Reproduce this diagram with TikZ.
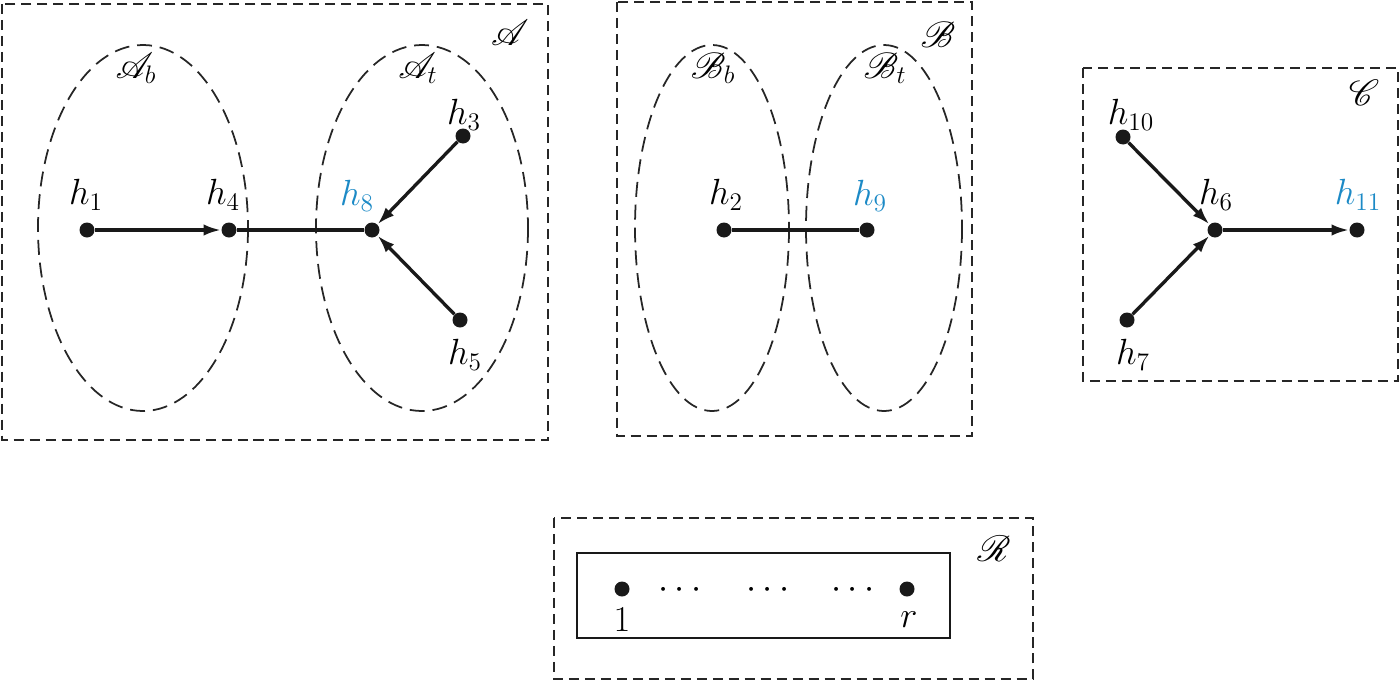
\documentclass[tikz,border=0pt]{standalone}
\usepackage{mathrsfs}
\usetikzlibrary{arrows.meta}
\definecolor{hblue}{RGB}{28,138,198}
\begin{document}
\begin{tikzpicture}[x=0.02cm,y=-0.02cm,
  dot/.style={circle,fill=black!90,inner sep=0pt,minimum size=0.3cm},
  lbl/.style={font=\fontsize{20}{24}\selectfont,inner sep=0pt},
  grp/.style={draw=black!85,line width=1.4pt,dash pattern=on 5.7pt off 3.4pt},
  ell/.style={draw=black!85,line width=1pt,dash pattern=on 8.5pt off 4.5pt},
  edge/.style={line width=1.9pt,draw=black!90},
  arr/.style={edge,-{Latex[length=10pt,width=6.5pt]}},
]
\useasboundingbox (0,0) rectangle (1400,683);
% group boxes
\draw[grp] (2,4) rectangle (548,440);
\draw[grp] (617,2) rectangle (972,436);
\draw[grp] (1083,68) rectangle (1398,381);
\draw[grp] (554,518) rectangle (1033,679);
\draw[line width=1.1pt,draw=black!90] (577,553) rectangle (950,638);
% ellipses
\draw[ell] (143,228) ellipse [x radius=105, y radius=183];
\draw[ell] (422,228) ellipse [x radius=106, y radius=183];
\draw[ell] (712,228) ellipse [x radius=77, y radius=183];
\draw[ell] (884,228) ellipse [x radius=78, y radius=183];
% group labels
\node[lbl] (lA) at (510,33) {$\mathscr{A}$};
\node[lbl] (lAb) at (136,68) {$\mathscr{A}_b$};
\node[lbl] (lAt) at (418,68) {$\mathscr{A}_t$};
\node[lbl] (lB) at (938,35) {$\mathscr{B}$};
\node[lbl] (lBb) at (713,68) {$\mathscr{B}_b$};
\node[lbl] (lBt) at (885,68) {$\mathscr{B}_t$};
\node[lbl] (lC) at (1364,93) {$\mathscr{C}$};
\node[lbl] (lR) at (994,549) {$\mathscr{R}$};
% nodes
\node[dot] (h1) at (87,230) {};
\node[dot] (h4) at (229,230) {};
\node[dot] (h8) at (372,230) {};
\node[dot] (h3) at (463,136) {};
\node[dot] (h5) at (460,320) {};
\node[dot] (h2) at (724,230) {};
\node[dot] (h9) at (867,230) {};
\node[dot] (h10) at (1123,137) {};
\node[dot] (h6) at (1215,230) {};
\node[dot] (h11) at (1357,230) {};
\node[dot] (h7) at (1127,320) {};
\node[dot] (r1) at (622,589) {};
\node[dot] (rr) at (907,589) {};
% node labels
\node[lbl] (t1) at (86,195) {$h_1$};
\node[lbl] (t4) at (223,195) {$h_4$};
\node[lbl] (t8) at (357,196) {\color{hblue}$h_8$};
\node[lbl] (t3) at (464,115) {$h_3$};
\node[lbl] (t5) at (465,355) {$h_5$};
\node[lbl] (t2) at (726,195) {$h_2$};
\node[lbl] (t9) at (870,196) {\color{hblue}$h_9$};
\node[lbl] (t10) at (1131,115) {$h_{10}$};
\node[lbl] (t6) at (1216,195) {$h_6$};
\node[lbl] (t11) at (1358,195) {\color{hblue}$h_{11}$};
\node[lbl] (t7) at (1133,355) {$h_7$};
\node[lbl] (n1) at (622,620) {$1$};
\node[lbl] (nr) at (909,620) {$r$};
\node[lbl] (d1) at (680,590) {$\cdots$};
\node[lbl] (d2) at (768,590) {$\cdots$};
\node[lbl] (d3) at (853,590) {$\cdots$};
% edges
\draw[arr] (h1) -- (h4);
\draw[edge] (h4) -- (h8);
\draw[arr] (h3) -- (h8);
\draw[arr] (h5) -- (h8);
\draw[edge] (h2) -- (h9);
\draw[arr] (h10) -- (h6);
\draw[arr] (h7) -- (h6);
\draw[arr] (h6) -- (h11);
\end{tikzpicture}
\end{document}
